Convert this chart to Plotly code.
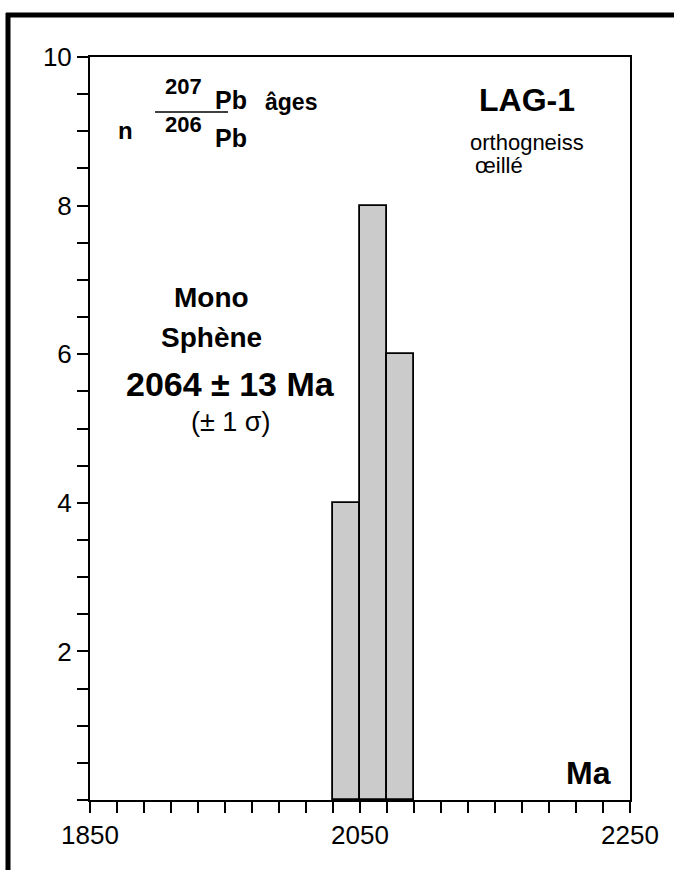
import plotly.graph_objects as go

# Histogram of 207Pb/206Pb ages (Ma), bins of 20 Ma
bin_left = [2030, 2050, 2070]
bin_width = 20
counts = [4, 8, 6]

x_range = [1850, 2250]
x_ticks = [1850, 2050, 2250]
y_range = [0, 10]
y_ticks = [2, 4, 6, 8, 10]

W, H = 674, 870
ML, MR, MT, MB = 90, 44, 57, 70
PW, PH = W - ML - MR, H - MT - MB

SANS = "Liberation Sans, Arial, Helvetica, sans-serif"


def px(x):
    return (x - ML) / PW


def py(y):
    return (H - MB - y) / PH


fig = go.Figure()
fig.add_trace(go.Bar(
    x=bin_left, y=counts, width=[bin_width] * len(counts), offset=0,
    marker=dict(color="#cbcbcb", line=dict(color="black", width=1.8)),
    hoverinfo="skip", showlegend=False,
))

axis_common = dict(
    showline=True, linecolor="black", linewidth=2, mirror=True,
    ticks="outside", ticklen=11, tickwidth=2, tickcolor="black",
    showgrid=False, zeroline=False,
    tickfont=dict(family=SANS, size=26, color="black"),
)
fig.update_xaxes(range=x_range, tickvals=x_ticks, ticktext=[str(v) for v in x_ticks],
                 minor=dict(dtick=20, tick0=1850, ticks="outside", ticklen=11, tickwidth=2,
                            tickcolor="black", showgrid=False),
                 **axis_common)
fig.update_yaxes(range=y_range, tickvals=y_ticks, ticktext=[str(v) for v in y_ticks],
                 minor=dict(dtick=0.5, tick0=0, ticks="outside", ticklen=11, tickwidth=2,
                            tickcolor="black", showgrid=False),
                 **axis_common)

annotations = []


def label(x, y, text, size, bold=False, xanchor="center"):
    t = f"<b>{text}</b>" if bold else text
    annotations.append(dict(
        x=px(x), y=py(y), xref="paper", yref="paper", text=t, showarrow=False,
        xanchor=xanchor, yanchor="middle",
        font=dict(family=SANS, size=size, color="black"),
    ))


# ratio label: n  207Pb/206Pb âges
label(125, 130, "n", 24, bold=True)
label(183, 86, "207", 22, bold=True)
label(231, 100, "Pb", 25, bold=True)
label(291, 102, "âges", 23, bold=True)
label(183, 125, "206", 22, bold=True)
label(231, 138, "Pb", 25, bold=True)

# sample name
label(527, 100, "LAG-1", 32, bold=True)
label(527, 142, "orthogneiss", 22)
label(473, 165, "œillé", 22, xanchor="left")

# mineral and age
label(211, 297, "Mono", 28, bold=True)
label(211, 337, "Sphène", 28, bold=True)
label(230, 384, "2064 ± 13 Ma", 34, bold=True)
label(230, 422, "(± 1 σ)", 27)

# axis unit
label(588, 773, "Ma", 32, bold=True)

shapes = [
    # fraction bar
    dict(type="line", xref="paper", yref="paper", x0=px(155), x1=px(228), y0=py(112), y1=py(112),
         line=dict(color="black", width=1.5)),
    # outer frame (top and left edges)
    dict(type="line", xref="paper", yref="paper", x0=px(6), x1=px(676), y0=py(15), y1=py(15),
         line=dict(color="black", width=5)),
    dict(type="line", xref="paper", yref="paper", x0=px(8), x1=px(8), y0=py(13), y1=py(872),
         line=dict(color="black", width=5)),
]

fig.update_layout(
    width=W, height=H,
    margin=dict(l=ML, r=MR, t=MT, b=MB),
    paper_bgcolor="white", plot_bgcolor="white",
    bargap=0, showlegend=False,
    annotations=annotations, shapes=shapes,
)

fig.write_html("out.html")
